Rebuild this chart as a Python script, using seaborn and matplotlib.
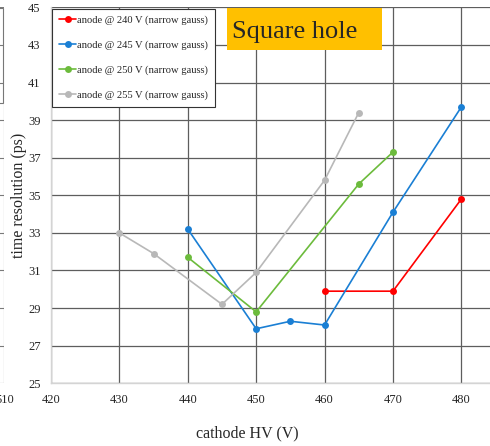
"""
Time resolution vs cathode HV for the square-hole configuration.
"""

import pandas as pd
import matplotlib.pyplot as plt
from matplotlib.patches import Rectangle
import seaborn as sns

# Data
hv_240 = [460, 470, 480]
res_240 = [29.9, 29.9, 34.8]

hv_245 = [440, 450, 455, 460, 470, 480]
res_245 = [33.2, 27.9, 28.3, 28.1, 34.1, 39.7]

hv_250 = [440, 450, 465, 470]
res_250 = [31.7, 28.8, 35.6, 37.3]

hv_255 = [430, 435, 445, 450, 460, 465]
res_255 = [33.0, 31.9, 29.2, 30.9, 35.8, 39.4]

series_labels = [
    'anode @ 240 V (narrow gauss)',
    'anode @ 245 V (narrow gauss)',
    'anode @ 250 V (narrow gauss)',
    'anode @ 255 V (narrow gauss)',
]
series_colors = ['#ff0000', '#1a7fd4', '#6cbb3c', '#b8b8b8']

x_ticks = [420, 430, 440, 450, 460, 470, 480]
y_ticks = [25, 27, 29, 31, 33, 35, 37, 39, 41, 43, 45]


def build_frame():
    """Long-form table for seaborn."""
    parts = []
    for label, hv, res in zip(series_labels,
                              [hv_240, hv_245, hv_250, hv_255],
                              [res_240, res_245, res_250, res_255]):
        parts.append(pd.DataFrame({'hv': hv, 'res': res, 'series': label}))
    return pd.concat(parts, ignore_index=True)


def main():
    sns.set_style('white')
    plt.rcParams['font.family'] = ['Liberation Serif', 'DejaVu Serif']

    df = build_frame()

    fig = plt.figure(figsize=(4.9, 4.46), dpi=100)
    ax = fig.add_axes([0.1041, 0.1406, 0.977, 0.843])

    # sliver of the neighbouring chart on the left edge
    ax0 = fig.add_axes([-0.5, 0.1406, 0.5085, 0.843])
    ax0.set_xlim(0, 510)
    ax0.set_ylim(25, 45)
    ax0.set_xticks([510])
    ax0.set_xticklabels(['510'], fontsize=9)
    ax0.set_yticks(y_ticks)
    ax0.set_yticklabels([])
    ax0.tick_params(length=0, pad=7.5)
    ax0.grid(True, color='#7a7a7a', lw=0.8)
    for s in ax0.spines.values():
        s.set_visible(False)
    # edge of the neighbouring chart's legend box
    fig.patches.append(Rectangle((-0.01, 0.769), 0.0155, 0.213, fill=False,
                                 edgecolor='#777777', lw=0.8,
                                 transform=fig.transFigure, figure=fig))

    sns.lineplot(data=df, x='hv', y='res', hue='series', hue_order=series_labels,
                 palette=series_colors, marker='o', markersize=5,
                 markeredgewidth=0, linewidth=1.2, sort=False, ax=ax)

    ax.set_xlim(420, 490)
    ax.set_ylim(25, 45)
    ax.set_xticks(x_ticks)
    ax.set_yticks(y_ticks)
    ax.tick_params(labelsize=9, length=0, pad=7.5)
    ax.grid(True, color='#5e5e5e', lw=0.9)
    ax.set_axisbelow(True)
    for side in ['top', 'right']:
        ax.spines[side].set_visible(False)
    for side in ['left', 'bottom']:
        ax.spines[side].set_color('#d4d4d4')
        ax.spines[side].set_linewidth(1.0)

    ax.set_xlabel('cathode HV (V)', fontsize=11.5)
    ax.xaxis.set_label_coords(0.411, -0.112)
    ax.set_ylabel('time resolution (ps)', fontsize=11.5)
    ax.yaxis.set_label_coords(-0.05, 0.5)

    leg = ax.legend(loc='upper left', fontsize=7.6, frameon=True, fancybox=False,
                    labelspacing=1.45, handlelength=1.6, handletextpad=0.1,
                    borderpad=0.65, borderaxespad=0.12)
    leg.get_frame().set_edgecolor('#333333')
    leg.get_frame().set_linewidth(0.8)
    leg.get_frame().set_alpha(1)

    # orange title box
    ax.add_patch(Rectangle((0.3676, 0.886), 0.3237, 0.112, transform=ax.transAxes,
                           facecolor='#ffc000', edgecolor='none', zorder=5))
    ax.text(0.378, 0.935, 'Square hole', transform=ax.transAxes, fontsize=19,
            va='center', ha='left', zorder=6)

    fig.savefig('out.png', dpi=100)


if __name__ == "__main__":
    main()
